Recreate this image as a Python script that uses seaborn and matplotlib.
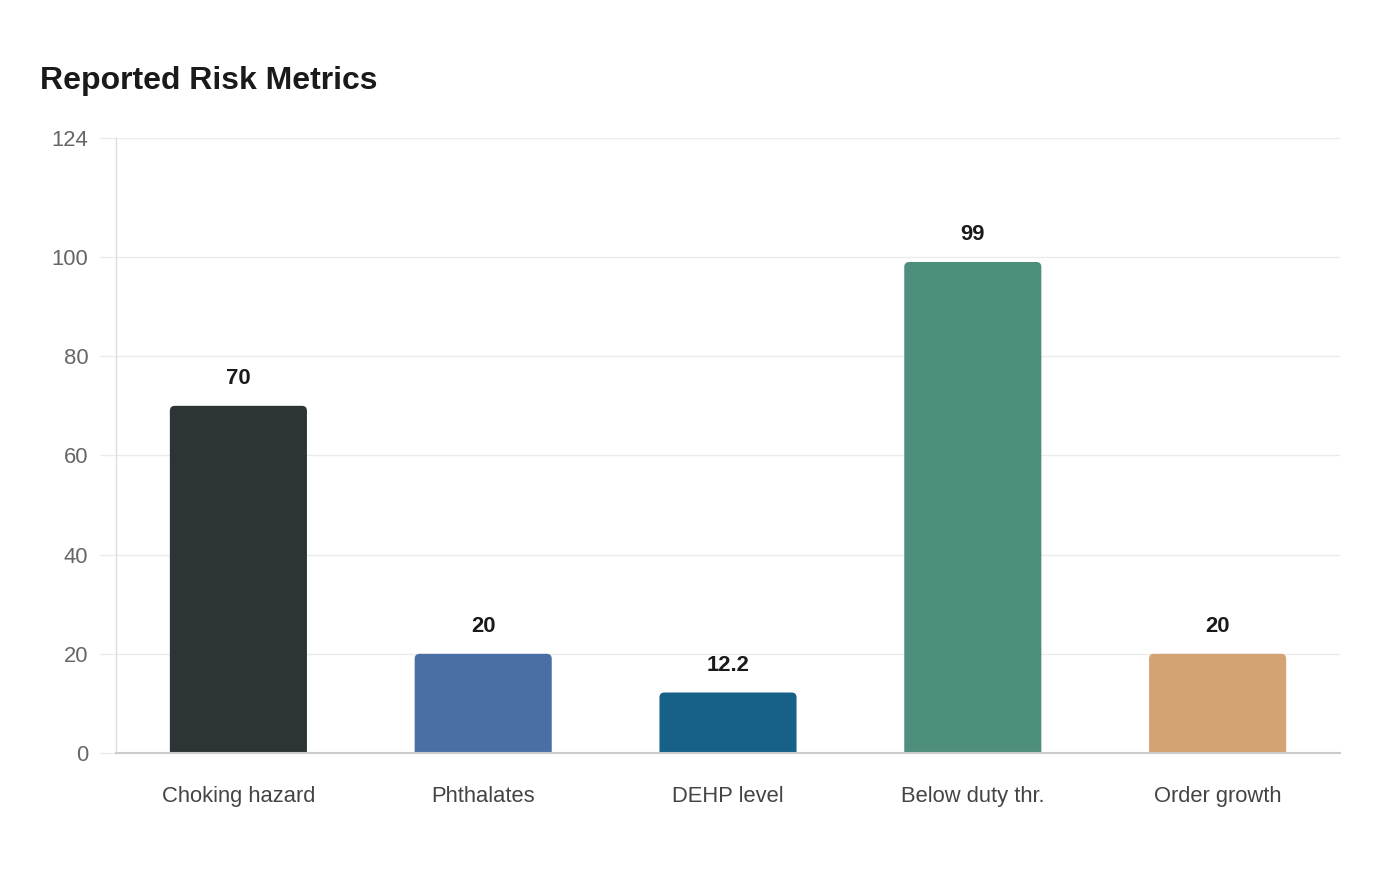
import matplotlib
matplotlib.use("Agg")
import matplotlib.pyplot as plt
from matplotlib.patches import FancyBboxPatch
import pandas as pd
import seaborn as sb

# chart data
categories = ["Choking hazard", "Phthalates", "DEHP level", "Below duty thr.", "Order growth"]
values = [70, 20, 12.2, 99, 20]
value_labels = ["70", "20", "12.2", "99", "20"]
bar_colors = ["#2d3436", "#4a6fa5", "#176087", "#4e8e7c", "#d4a373"]
y_ticks = [0, 20, 40, 60, 80, 100, 124]

df = pd.DataFrame({"category": categories, "value": values})

sb.set_style("white")
plt.rcParams["font.family"] = ["Liberation Sans", "DejaVu Sans"]

fig = plt.figure(figsize=(14, 8.8), dpi=100)
ax = fig.add_axes([116 / 1400, 1 - 753 / 880, 1224 / 1400, 615 / 880])

sb.barplot(data=df, x="category", y="value", hue="category", palette=bar_colors,
           width=0.56, saturation=1, legend=False, ax=ax, zorder=3)

# swap the plain bars for ones with rounded top corners
px_x = 1224 / 5
px_y = 615 / 124
for patch in list(ax.patches):
    x0, y0 = patch.get_x(), patch.get_y()
    w, h = patch.get_width(), patch.get_height()
    color = patch.get_facecolor()
    patch.remove()
    r = 5 / px_x
    box = FancyBboxPatch((x0, y0 - 3), w, h + 3,
                         boxstyle=f"round,pad=0,rounding_size={r}",
                         mutation_aspect=px_x / px_y,
                         facecolor=color, edgecolor="none", zorder=3)
    ax.add_patch(box)

for i, (v, lab) in enumerate(zip(values, value_labels)):
    ax.annotate(lab, (i, v), xytext=(0, 12), textcoords="offset points",
                ha="center", va="bottom", fontsize=15.8, fontweight="bold",
                color="#1a1a1a")

ax.set_xlim(-0.5, 4.5)
ax.set_ylim(0, 124)
ax.set_yticks(y_ticks)
ax.yaxis.grid(True, color="#ebebeb", linewidth=1, zorder=0)
ax.set_xlabel("")
ax.set_ylabel("")

ax.tick_params(axis="y", length=11.5, width=1, color="#ebebeb", pad=8.5,
               labelsize=15.8, labelcolor="#666666", left=True)
ax.tick_params(axis="x", length=0, pad=24, labelsize=15.8, labelcolor="#444444")

for side in ["top", "right"]:
    ax.spines[side].set_visible(False)
ax.spines["left"].set_color("#dddddd")
ax.spines["left"].set_linewidth(1)
ax.spines["bottom"].set_color("#cccccc")
ax.spines["bottom"].set_linewidth(1.5)
ax.spines["bottom"].set_zorder(4)

fig.text(40 / 1400, 1 - 81 / 880, "Reported Risk Metrics", fontsize=23,
         fontweight="bold", color="#1a1a1a", ha="left", va="center")

plt.savefig("out.png", dpi=100)
